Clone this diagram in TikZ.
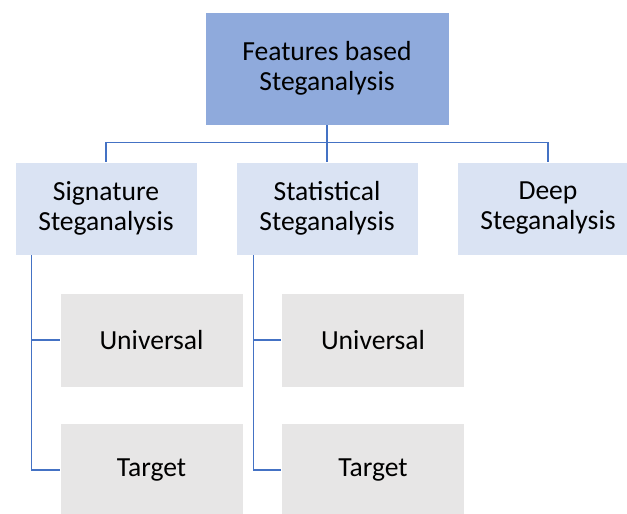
\documentclass[tikz,border=0pt]{standalone}
\usepackage{fontspec}
\setmainfont{Carlito}
\definecolor{rootfill}{HTML}{8FAADC}
\definecolor{midfill}{HTML}{DAE3F3}
\definecolor{leaffill}{HTML}{E7E6E6}
\definecolor{linkblue}{HTML}{4472C4}
\begin{document}
\begin{tikzpicture}[x=1pt,y=-1pt,
  box/.style={rectangle, draw=white, line width=0.8pt, align=center,
    font=\fontsize{27.6}{30}\selectfont, text=black, inner sep=0pt},
  rootbox/.style={box, fill=rootfill, minimum width=244pt, minimum height=113pt},
  midbox/.style={box, fill=midfill, minimum width=182pt, minimum height=93pt},
  leafbox/.style={box, fill=leaffill, minimum width=183pt, minimum height=94pt},
  link/.style={draw=linkblue, line width=1.6pt}]
\useasboundingbox (0,0) rectangle (627,514);
\begin{scope}
\clip (0,0) rectangle (627,514);
\node[rootbox] (root) at (327,68.5) {Features based\\Steganalysis};
\node[midbox] (sig) at (106,208.5) {Signature\\Steganalysis};
\node[midbox] (stat) at (327,208.5) {Statistical\\Steganalysis};
\node[midbox] (deep) at (548,208.5) {Deep\\Steganalysis};
\node[leafbox] (sigu) at (151.5,340) {Universal};
\node[leafbox] (sigt) at (151.5,470) {Target};
\node[leafbox] (statu) at (373,340) {Universal};
\node[leafbox] (statt) at (373,470) {Target};
% tree links
\draw[link] (root.south) -- (stat.north);
\draw[link] (sig.north) -- ++(0,-19) -| (deep.north);
\draw[link] ([xshift=17pt]sig.south west) |- (sigu.west);
\draw[link] ([xshift=17pt]sig.south west) |- (sigt.west);
\draw[link] ([xshift=18pt]stat.south west) |- (statu.west);
\draw[link] ([xshift=18pt]stat.south west) |- (statt.west);
\end{scope}
\end{tikzpicture}
\end{document}
